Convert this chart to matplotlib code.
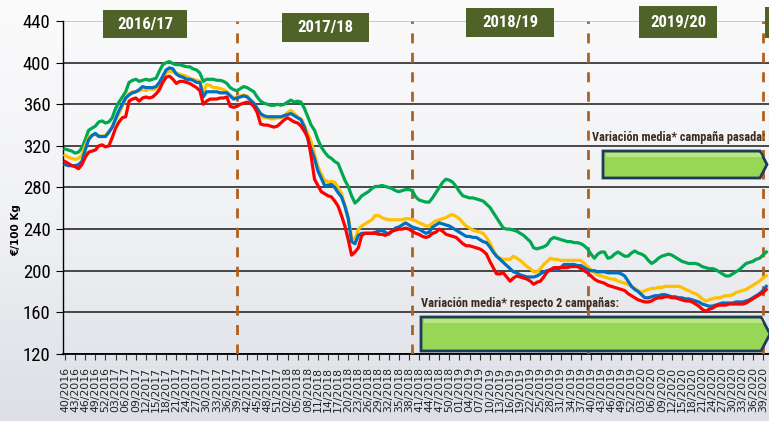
import numpy as np
import matplotlib
matplotlib.use("Agg")
import matplotlib.pyplot as plt
from matplotlib import font_manager
from matplotlib.colors import LinearSegmentedColormap
from matplotlib.patches import Rectangle, Polygon

W, H = 769, 421

# week labels, 40/2016 .. 40/2020
weeks = []
for yr, w0, w1 in [(2016, 40, 52), (2017, 1, 52), (2018, 1, 52), (2019, 1, 52), (2020, 1, 40)]:
    weeks += ['%02d/%d' % (w, yr) for w in range(w0, w1 + 1)]

seasons = ['2016/17', '2017/18', '2018/19', '2019/20']
season_end = ['39/2017', '39/2018', '39/2019', '39/2020']
yticks = [120, 160, 200, 240, 280, 320, 360, 400, 440]

green = [317, 316, 315, 313, 314, 318, 326, 335, 337, 339,
         343, 344, 342, 343, 347, 356, 362, 367, 372, 381,
         383, 384, 382, 383, 384, 383, 384, 385, 392, 398,
         400, 401, 399, 398, 398, 397, 396, 396, 394, 393,
         390, 382, 384, 384, 384, 383, 383, 382, 380, 376,
         374, 373, 375, 377, 376, 374, 372, 367, 363, 361,
         360, 359, 359, 360, 359, 360, 362, 364, 362, 363,
         362, 356, 348, 340, 335, 326, 319, 314, 310, 308,
         305, 303, 295, 287, 281, 272, 265, 268, 272, 274,
         276, 279, 281, 281, 282, 281, 280, 279, 277, 276,
         277, 278, 278, 277, 271, 268, 267, 266, 266, 270,
         275, 280, 285, 288, 287, 285, 281, 276, 272, 271,
         270, 270, 269, 268, 267, 264, 261, 256, 251, 246,
         241, 240, 240, 239, 238, 236, 234, 231, 228, 222,
         221, 222, 223, 225, 230, 232, 231, 230, 229, 228,
         228, 227, 227, 226, 224, 221, 216, 212, 216, 218,
         218, 212, 213, 216, 218, 216, 214, 214, 217, 219,
         217, 216, 214, 210, 207, 209, 212, 214, 215, 216,
         215, 213, 211, 209, 208, 207, 207, 207, 206, 204,
         203, 202, 202, 201, 199, 197, 195, 195, 197, 199,
         201, 204, 207, 208, 209, 211, 212, 215, 218]

yellow = [311, 309, 308, 307, 308, 311, 320, 328, 330, 331,
          330, 329, 330, 334, 338, 345, 351, 358, 366, 370,
          372, 372, 373, 374, 373, 375, 374, 375, 377, 384,
          390, 392, 391, 390, 389, 388, 387, 385, 384, 383,
          382, 371, 379, 378, 376, 376, 375, 374, 372, 369,
          366, 367, 368, 369, 368, 364, 361, 354, 349, 347,
          347, 346, 346, 347, 347, 349, 352, 354, 351, 348,
          346, 340, 332, 324, 312, 300, 293, 287, 285, 286,
          285, 280, 274, 263, 252, 232, 230, 240, 243, 245,
          247, 249, 253, 253, 251, 250, 249, 249, 249, 249,
          249, 250, 250, 249, 248, 246, 245, 243, 243, 246,
          248, 249, 250, 251, 253, 254, 252, 250, 246, 243,
          241, 239, 238, 237, 236, 232, 227, 220, 214, 212,
          211, 211, 211, 214, 212, 210, 207, 204, 202, 199,
          199, 202, 206, 209, 212, 211, 211, 210, 210, 210,
          210, 210, 210, 210, 207, 204, 201, 198, 196, 195,
          194, 193, 192, 192, 190, 189, 188, 187, 185, 183,
          181, 179, 181, 182, 183, 183, 184, 184, 185, 185,
          185, 185, 185, 184, 182, 181, 179, 178, 176, 173,
          171, 172, 173, 174, 174, 175, 176, 176, 177, 179,
          180, 181, 182, 184, 186, 188, 190, 193, 195]

blue = [302, 301, 301, 301, 302, 305, 316, 326, 330, 332,
        329, 329, 329, 333, 338, 346, 354, 360, 366, 369,
        371, 372, 374, 377, 376, 376, 376, 377, 381, 387,
        393, 395, 394, 389, 387, 386, 384, 384, 383, 381,
        381, 367, 372, 372, 372, 372, 371, 371, 371, 368,
        365, 366, 367, 368, 367, 364, 361, 356, 351, 349,
        348, 348, 348, 348, 348, 349, 350, 351, 349, 347,
        345, 338, 327, 317, 308, 296, 289, 282, 282, 283,
        280, 275, 271, 262, 250, 228, 226, 234, 236, 236,
        236, 236, 237, 238, 239, 237, 235, 238, 241, 242,
        244, 246, 244, 242, 241, 240, 238, 236, 237, 242,
        244, 246, 245, 244, 243, 241, 239, 237, 235, 233,
        233, 232, 232, 230, 228, 227, 223, 218, 214, 211,
        208, 205, 202, 199, 198, 196, 195, 194, 194, 194,
        195, 197, 199, 200, 201, 202, 201, 203, 206, 206,
        206, 206, 205, 205, 203, 201, 200, 200, 199, 199,
        199, 198, 198, 198, 198, 197, 195, 190, 185, 182,
        180, 177, 174, 174, 175, 176, 176, 177, 177, 176,
        175, 175, 174, 174, 173, 173, 172, 171, 170, 168,
        167, 166, 166, 167, 168, 169, 169, 169, 169, 170,
        170, 170, 171, 172, 174, 176, 178, 181, 185]

red = [305, 303, 301, 300, 298, 302, 309, 314, 315, 316,
       320, 321, 319, 320, 328, 337, 343, 347, 348, 363,
       365, 366, 363, 366, 367, 366, 367, 370, 374, 381,
       386, 387, 384, 380, 382, 382, 381, 380, 378, 376,
       373, 360, 363, 365, 365, 365, 366, 366, 367, 358,
       357, 358, 360, 361, 362, 361, 358, 352, 341, 340,
       340, 339, 338, 339, 342, 345, 347, 345, 343, 342,
       339, 334, 328, 310, 288, 282, 276, 274, 272, 271,
       267, 262, 253, 243, 230, 215, 218, 222, 234, 236,
       236, 236, 236, 235, 235, 234, 236, 238, 239, 240,
       240, 241, 240, 238, 236, 235, 233, 232, 233, 236,
       237, 240, 238, 235, 234, 233, 232, 229, 226, 224,
       224, 223, 222, 221, 219, 216, 209, 203, 197, 197,
       198, 194, 190, 193, 195, 194, 193, 192, 190, 187,
       189, 190, 194, 199, 201, 203, 203, 203, 203, 203,
       204, 204, 204, 202, 200, 198, 195, 192, 190, 189,
       188, 186, 185, 184, 183, 182, 181, 178, 176, 174,
       172, 171, 170, 170, 171, 173, 174, 174, 175, 175,
       174, 174, 173, 172, 171, 171, 170, 168, 166, 163,
       161, 163, 164, 166, 167, 167, 167, 168, 168, 168,
       168, 168, 169, 171, 173, 175, 177, 179, 182]


def have_font(name):
    try:
        font_manager.findfont(name, fallback_to_default=False)
        return True
    except ValueError:
        return False


narrow = [f for f in ['Roboto Condensed', 'Liberation Sans Narrow', 'Liberation Sans'] if have_font(f)]
narrow.append('DejaVu Sans')


def fx(px):
    return px / W


def fy(py):
    return 1 - py / H


def fit_width(t, target_px, renderer):
    # shrink/grow font so the text spans target_px like in the original
    w = t.get_window_extent(renderer).width
    t.set_fontsize(t.get_fontsize() * target_px / w)


fig = plt.figure(figsize=(W / 100, H / 100), dpi=100)
renderer = fig.canvas.get_renderer()

# background gradient
bg = fig.add_axes([0, 0, 1, 1], zorder=-10)
grad = np.linspace(0, 1, 256).reshape(-1, 1)
cm = LinearSegmentedColormap.from_list('bg', ['#fbfbfc', '#f1f2f5', '#dcdfe5'])
bg.imshow(grad, aspect='auto', cmap=cm, extent=[0, 1, 0, 1])
bg.axis('off')

ax = fig.add_axes([fx(63), fy(354), 1 - fx(63), fy(21) - fy(354)])
ax.set_facecolor('none')

for s, c in [(green, '#00a94f'), (yellow, '#ffc000'), (blue, '#0070c0'), (red, '#ff0000')]:
    ax.plot(np.arange(len(s)), s, color=c, lw=2.3, solid_joinstyle='round', zorder=4)

for wk in season_end:
    ax.axvline(weeks.index(wk), color='#b0601e', lw=2, ls=(0, (3.6, 3.4)), zorder=3)

ax.set_xlim(-0.6, 208.8)
ax.set_ylim(120, 440)
ax.set_yticks(yticks)
ax.set_yticklabels([str(v) for v in yticks], family=narrow, fontsize=13.5)
tpos = list(range(0, 208, 3))
ax.set_xticks(tpos)
ax.set_xticklabels([weeks[i] for i in tpos], rotation=90, fontsize=7.8, color='#222222')
ax.tick_params(axis='x', length=4, width=0.8, pad=5, color='#333333')
ax.tick_params(axis='y', length=5, width=0.8, pad=4)
ax.grid(axis='y', color='#3a3a3a', lw=1.3, zorder=1)
ax.get_ygridlines()[-1].set_color('#c4c4c4')
for sp in ['top', 'right']:
    ax.spines[sp].set_visible(False)
ax.spines['left'].set_linewidth(1)
ax.spines['bottom'].set_linewidth(1.3)

fig.text(fx(16), fy(230), '€/100 Kg', rotation=90, fontsize=7.5, fontweight='bold',
         ha='center', va='center')

# season label boxes (the last one is only a sliver at the right edge)
boxes = [(103, 10, 84, 28), (282, 13, 87, 29), (466, 8, 88, 29), (639, 6, 78, 32), (765, 7, 84, 31)]
for i, (bx, by, bw, bh) in enumerate(boxes):
    fig.patches.append(Rectangle((fx(bx), fy(by + bh)), bw / W, bh / H, transform=fig.transFigure,
                                 facecolor='#4f6228', edgecolor='none', zorder=5))
    if i < len(seasons):
        t = fig.text(fx(bx + bw / 2), fy(by + bh / 2), seasons[i], color='white', fontsize=12.5,
                     fontweight='bold', family=narrow, ha='center', va='center', zorder=6)
        fit_width(t, 57, renderer)

# "variation" arrows
for x0, x1, tip, y0, y1 in [(603, 760, 767, 151, 178), (421, 761, 770, 317, 351)]:
    ym = (y0 + y1) / 2
    pts = [(fx(x0), fy(y0)), (fx(x1), fy(y0)), (fx(tip), fy(ym)), (fx(x1), fy(y1)), (fx(x0), fy(y1))]
    fig.patches.append(Polygon(pts, closed=True, transform=fig.transFigure, facecolor='#98d656',
                               edgecolor='#1f3a5c', lw=2, zorder=5))
    hl = [(fx(x0 + 3), fy(y0 + 2)), (fx(x1), fy(y0 + 2)), (fx(x1 + 2), fy(y0 + 6)), (fx(x0 + 3), fy(y0 + 6))]
    fig.patches.append(Polygon(hl, closed=True, transform=fig.transFigure, facecolor='#b9e684',
                               edgecolor='none', zorder=5))

t1 = fig.text(fx(592), fy(137), 'Variación media* campaña pasada:', fontsize=9.5, fontweight='bold',
              family=narrow, color='#3d2b1f', ha='left', va='center', zorder=6)
fit_width(t1, 174, renderer)
t2 = fig.text(fx(421), fy(304), 'Variación media* respecto 2 campañas:', fontsize=9.5, fontweight='bold',
              family=narrow, color='#3d2b1f', ha='left', va='center', zorder=6)
fit_width(t2, 198, renderer)

fig.savefig('out.png', dpi=100)
